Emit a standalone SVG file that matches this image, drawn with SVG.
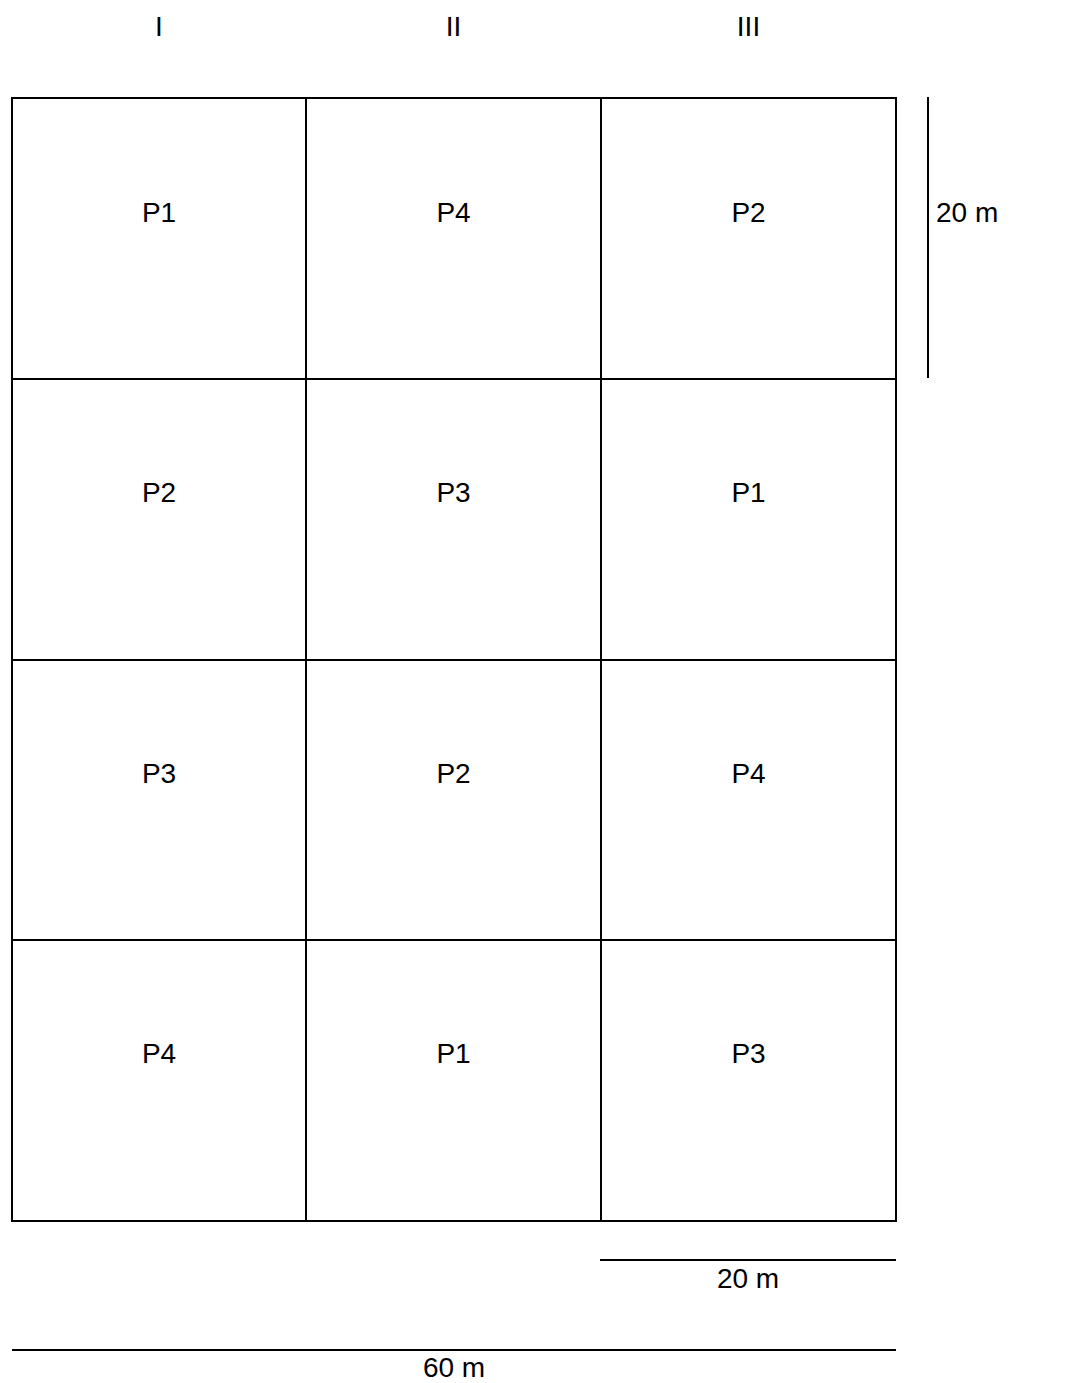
<svg xmlns="http://www.w3.org/2000/svg" width="1083" height="1383" viewBox="0 0 1083 1383">
  <style>
    .cell { fill: #ffffff; stroke: #000000; stroke-width: 2; }
    .ln { stroke: #000000; stroke-width: 2; fill: none; }
    .t { font-family: "Liberation Sans", Arial, sans-serif; font-size: 28px; fill: #000000; text-anchor: middle; }
    .tl { font-family: "Liberation Sans", Arial, sans-serif; font-size: 28px; fill: #000000; text-anchor: start; }
  </style>
  <rect width="1083" height="1383" fill="#ffffff"/>

  <g id="column-labels">
    <text class="t" x="159" y="36">I</text>
    <text class="t" x="453.5" y="36">II</text>
    <text class="t" x="748.5" y="36">III</text>
  </g>

  <g id="r1c1"><rect class="cell" x="12" y="98" width="294" height="281"/><text class="t" x="159" y="222">P1</text></g>
  <g id="r1c2"><rect class="cell" x="306" y="98" width="295" height="281"/><text class="t" x="453.5" y="222">P4</text></g>
  <g id="r1c3"><rect class="cell" x="601" y="98" width="295" height="281"/><text class="t" x="748.5" y="222">P2</text></g>

  <g id="r2c1"><rect class="cell" x="12" y="379" width="294" height="281"/><text class="t" x="159" y="502">P2</text></g>
  <g id="r2c2"><rect class="cell" x="306" y="379" width="295" height="281"/><text class="t" x="453.5" y="502">P3</text></g>
  <g id="r2c3"><rect class="cell" x="601" y="379" width="295" height="281"/><text class="t" x="748.5" y="502">P1</text></g>

  <g id="r3c1"><rect class="cell" x="12" y="660" width="294" height="280"/><text class="t" x="159" y="783">P3</text></g>
  <g id="r3c2"><rect class="cell" x="306" y="660" width="295" height="280"/><text class="t" x="453.5" y="783">P2</text></g>
  <g id="r3c3"><rect class="cell" x="601" y="660" width="295" height="280"/><text class="t" x="748.5" y="783">P4</text></g>

  <g id="r4c1"><rect class="cell" x="12" y="940" width="294" height="281"/><text class="t" x="159" y="1063">P4</text></g>
  <g id="r4c2"><rect class="cell" x="306" y="940" width="295" height="281"/><text class="t" x="453.5" y="1063">P1</text></g>
  <g id="r4c3"><rect class="cell" x="601" y="940" width="295" height="281"/><text class="t" x="748.5" y="1063">P3</text></g>

  <g id="scales">
    <line class="ln" x1="928" y1="97" x2="928" y2="378"/>
    <text class="tl" x="936" y="222">20 m</text>
    <line class="ln" x1="600" y1="1260" x2="896" y2="1260"/>
    <text class="t" x="748" y="1288">20 m</text>
    <line class="ln" x1="12" y1="1350" x2="896" y2="1350"/>
    <text class="t" x="454" y="1377">60 m</text>
  </g>
</svg>
